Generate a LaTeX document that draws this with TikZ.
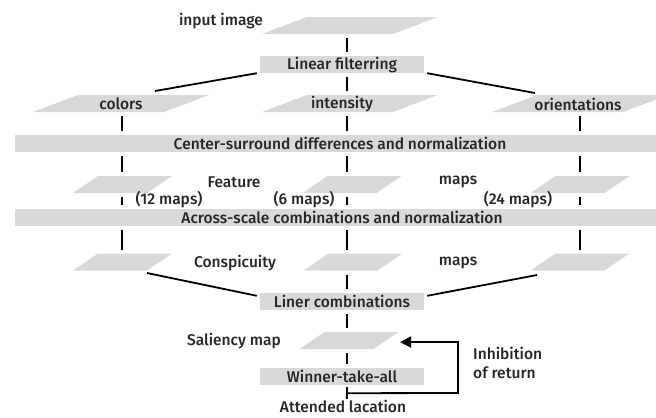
\documentclass[tikz,border=0pt]{standalone}
\usepackage{fontspec}
\setmainfont{Fira Sans}[UprightFont={* Medium}]
\usetikzlibrary{calc,arrows.meta}
\definecolor{boxgray}{HTML}{D9D9D9}
\definecolor{txt}{HTML}{262626}
\tikzset{
  every node/.style={font=\fontsize{15.6}{17}\selectfont, text=txt, inner sep=0pt},
  procbox/.style={fill=boxgray, minimum width=164bp, minimum height=17bp},
  widebox/.style={fill=boxgray, minimum width=641bp, minimum height=17bp},
  conn/.style={line width=2bp, shorten <=4bp, shorten >=4bp},
  diag/.style={line width=1.8bp},
  fb/.style={line width=1.8bp, -{Triangle[length=11bp,width=11bp]}},
}
% name, center x, center y, half edge width, half skew, column x
\newcommand\paragram[6]{%
  \coordinate (#1) at (#2,#3);
  \fill[boxgray] ($(#1)+(-#4-#5,8.5)$) -- ($(#1)+(#4-#5,8.5)$) -- ($(#1)+(#4+#5,-8.5)$) -- ($(#1)+(-#4+#5,-8.5)$) -- cycle;
  \coordinate (#1-t) at (#6,#3-8.5);
  \coordinate (#1-b) at (#6,#3+8.5);
}
\begin{document}
\begin{tikzpicture}[x=1bp,y=-1bp]
\useasboundingbox (0,0) rectangle (656,417);
% parallelograms
\paragram{inp}{350}{25.5}{65.5}{22.5}{347}
\paragram{col}{121}{103.5}{65.5}{22.5}{122}
\paragram{int}{350}{103.5}{65.5}{22.5}{347}
\paragram{ori}{580}{103.5}{65.5}{22.5}{580}
\paragram{fl}{122.5}{184.5}{37}{12.5}{122}
\paragram{fm}{352}{184.5}{37}{12.5}{347}
\paragram{fr}{580}{184.5}{37}{12.5}{580}
\paragram{cl}{122.5}{262}{37}{12.5}{122}
\paragram{cm}{353}{262}{37}{12.5}{347}
\paragram{cr}{580}{262}{37}{12.5}{580}
\paragram{sal}{349}{340.5}{37}{12.5}{347}
% boxes
\node[procbox] (lin) at (342,64.5) {};
\node at (342,64.5) (linl) {Linear filterring};
\node[widebox] (cs) at (335.5,143.5) {};
\node (csl) at (340,143.5) {Center-surround differences and normalization};
\node[widebox] (as) at (335.5,217.5) {};
\node (asl) at (342,217.5) {Across-scale combinations and normalization};
\node[procbox] (lc) at (342,301.5) {};
\node (lcl) at (342,301.5) {Liner combinations};
\node[procbox] (wta) at (342,376.5) {};
\node (wtal) at (342,376.5) {Winner-take-all};
% labels
\node (tinp) at (221,21) {input image};
\node (tcol) at (121,104) {colors};
\node (tint) at (342,104) {intensity};
\node (tori) at (578,104) {orientations};
\node (tfeat) at (234,182) {Feature};
\node (tfmaps) at (458,182) {maps};
\node (t12) at (169,200) {(12 maps)};
\node (t6) at (304,200) {(6 maps)};
\node (t24) at (518,200) {(24 maps)};
\node (tcon) at (235,263) {Conspicuity};
\node (tcmaps) at (458,263) {maps};
\node (tsal) at (234,341) {Saliency map};
\node (att) at (343,406) {Attended lacation};
\node[align=left, anchor=west, font=\fontsize{15.6}{19}\selectfont] (inh) at (473,362.5) {Inhibition\\of return};
% vertical connectors
\draw[conn] (inp-b) -- (lin.north -| inp-b);
\draw[conn] (lin.south -| int-t) -- (int-t);
\draw[conn] (col-b) -- (cs.north -| col-b);
\draw[conn] (int-b) -- (cs.north -| int-b);
\draw[conn] (ori-b) -- (cs.north -| ori-b);
\draw[conn] (cs.south -| fl-t) -- (fl-t);
\draw[conn] (cs.south -| fm-t) -- (fm-t);
\draw[conn] (cs.south -| fr-t) -- (fr-t);
\draw[conn] (fl-b) -- (as.north -| fl-b);
\draw[conn] (fm-b) -- (as.north -| fm-b);
\draw[conn] (fr-b) -- (as.north -| fr-b);
\draw[conn] (as.south -| cl-t) -- (cl-t);
\draw[conn] (as.south -| cm-t) -- (cm-t);
\draw[conn] (as.south -| cr-t) -- (cr-t);
\draw[conn] (cm-b) -- (lc.north -| cm-b);
\draw[conn] (lc.south -| sal-t) -- (sal-t);
\draw[conn] (sal-b) -- (wta.north -| sal-b);
% diagonals
\coordinate (colend) at (155,91);
\coordinate (oriend) at (535,93);
\coordinate (clstart) at (147,273);
\coordinate (crstart) at (537,275);
\draw[diag] ([xshift=-3bp]lin.south west) -- (colend);
\draw[diag] ([xshift=3bp]lin.south east) -- (oriend);
\draw[diag] (clstart) -- ([xshift=-3bp,yshift=-3bp]lc.north west);
\draw[diag] (crstart) -- ([xshift=3bp,yshift=-3bp]lc.north east);
% output and inhibition of return
\coordinate (wtab) at (wta.south -| sal-b);
\coordinate (tj) at ($(wtab)+(0,8)$);
\coordinate (fbc) at (458,393);
\coordinate (fbtip) at (400,342);
\draw[line width=1.8bp, shorten <=2bp, shorten >=1bp] (wtab) -- (att.north -| wtab);
\draw[fb] (tj) -- (fbc) |- (fbtip);
\end{tikzpicture}
\end{document}
